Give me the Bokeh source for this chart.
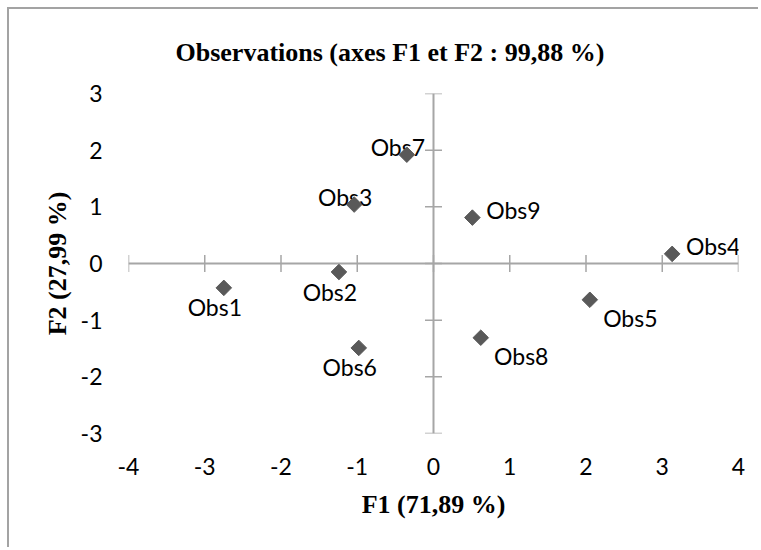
from bokeh.plotting import figure
from bokeh.models import ColumnDataSource, FixedTicker
from bokeh.core.properties import value
from bokeh.embed import file_html
from bokeh.resources import INLINE
import math

# ---- data ----
obs_names = ["Obs1", "Obs2", "Obs3", "Obs4", "Obs5", "Obs6", "Obs7", "Obs8", "Obs9"]
f1_values = [-2.75, -1.24, -1.04, 3.13, 2.05, -0.98, -0.35, 0.62, 0.51]
f2_values = [-0.43, -0.15, 1.04, 0.17, -0.64, -1.49, 1.92, -1.31, 0.81]
x_ticks = [-4, -3, -2, -1, 0, 1, 2, 3, 4]
y_ticks = [-3, -2, -1, 0, 1, 2, 3]
title_text = "Observations (axes F1 et F2 : 99,88 %)"
x_label = "F1 (71,89 %)"
y_label = "F2 (27,99 %)"

# label placement style per observation (Excel data-label positions)
placement = ["below", "below", "above", "right_above", "right_below",
             "below", "above", "right_below", "right_above"]
offsets = {"above": (-9, -8), "below": (-9, 19.5),
           "right_above": (41, -8), "right_below": (40.5, 18)}

src = ColumnDataSource(dict(
    x=f1_values, y=f2_values, name=obs_names,
    dx=[offsets[p][0] for p in placement],
    dy=[offsets[p][1] for p in placement],
))

AX = "#a6a6a6"
SERIF = "Liberation Serif"

p = figure(width=751, height=540, output_backend="svg", toolbar_location=None,
           x_range=(x_ticks[0], x_ticks[-1]), y_range=(y_ticks[0], y_ticks[-1]),
           min_border_left=119, min_border_right=22,
           min_border_top=84, min_border_bottom=116)
p.styles = {"border-left": "2px solid #a3a3a3", "border-top": "2px solid #a3a3a3",
            "margin-left": "7px", "margin-top": "7px"}
p.outline_line_color = None
p.grid.visible = False
p.background_fill_color = "white"
p.border_fill_color = "white"

p.title.text = title_text
p.title.align = "left"
p.title.offset = 47
p.title.standoff = 53
p.title.text_font = SERIF
p.title.text_font_style = "bold"
p.title.text_font_size = "26px"
p.title.text_color = "black"

for ax, ticks in ((p.xaxis[0], x_ticks), (p.yaxis[0], y_ticks)):
    ax.ticker = FixedTicker(ticks=ticks)
    ax.major_label_overrides = {t: str(t) for t in ticks}
    ax.axis_line_color = None
    ax.major_tick_line_color = None
    ax.minor_tick_line_color = None
    ax.major_tick_out = 0
    ax.major_tick_in = 0
    ax.major_label_text_font = "Lato"
    ax.major_label_text_font_size = "23px"
    ax.major_label_text_color = "black"
    ax.axis_label_text_font = SERIF
    ax.axis_label_text_font_style = "bold"
    ax.axis_label_text_font_size = "26px"
    ax.axis_label_text_color = "black"

p.xaxis[0].axis_label = x_label
p.yaxis[0].axis_label = y_label
p.xaxis[0].major_label_standoff = 24
p.xaxis[0].axis_label_standoff = 12
p.yaxis[0].major_label_standoff = 26
p.yaxis[0].axis_label_standoff = 6

# crossing axes at zero
p.segment(x0=[x_ticks[0], 0], y0=[0, y_ticks[0]], x1=[x_ticks[-1], 0], y1=[0, y_ticks[-1]],
          line_color=AX, line_width=2)
# cross tick marks
p.scatter(x=x_ticks, y=[0] * len(x_ticks), marker="dash", size=17, angle=math.pi / 2,
          line_color=AX, line_width=1.5)
p.scatter(x=[0] * len(y_ticks), y=y_ticks, marker="dash", size=17,
          line_color=AX, line_width=1.5)

# observation labels, then markers drawn on top
p.text("x", "y", text="name", source=src, x_offset="dx", y_offset="dy",
       text_font=value("Lato"), text_font_size="23px", text_color="black",
       text_align="center", text_baseline="alphabetic")
p.scatter("x", "y", source=src, marker="square", size=11, angle=math.pi / 4,
          fill_color="#595959", line_color="#595959")

open("out.html", "w").write(file_html(p, INLINE))
